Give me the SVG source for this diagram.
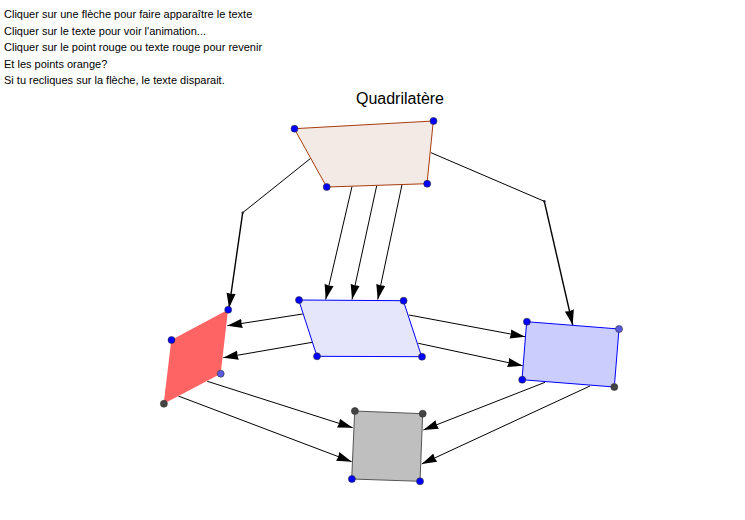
<svg xmlns="http://www.w3.org/2000/svg" width="745" height="520" viewBox="0 0 745 520">
<style>
text{font-family:"Liberation Sans",Arial,sans-serif;fill:#000}
.t{font-size:11px}
.c{fill:none;stroke:#000;stroke-width:1}
.a{marker-end:url(#ah)}
.b{stroke-width:1.4}
.p{stroke:#333;stroke-width:.6}
.blue{fill:#0000ff}
.mid{fill:#5a5ae0}
.dark{fill:#444}
.k{fill:#223;stroke:none}
</style>
<defs><marker id="ah" markerUnits="userSpaceOnUse" markerWidth="16" markerHeight="11" viewBox="0 0 16 11" refX="15" refY="5.5" orient="auto"><path d="M0 .9L15 5.5L0 10.1L.8 5.5Z" fill="#000"/></marker></defs>
<rect width="745" height="520" fill="#fff"/>
<g id="instructions">
<text class="t" x="4" y="18">Cliquer sur une flèche pour faire apparaître le texte</text>
<text class="t" x="4" y="35">Cliquer sur le texte pour voir l'animation...</text>
<text class="t" x="4" y="51">Cliquer sur le point rouge ou texte rouge pour revenir</text>
<text class="t" x="4" y="68">Et les points orange?</text>
<text class="t" x="4" y="84">Si tu recliques sur la flèche, le texte disparait.</text>
</g>
<g id="connectors">
<polyline class="c" points="310.7,158.3 242.7,212.7"/>
<line class="c b a" x1="242.7" y1="212.7" x2="229" y2="308"/>
<circle class="k" cx="242.7" cy="212.7" r="1.2"/>
<line class="c a" x1="352" y1="186.5" x2="325.7" y2="299.5"/>
<line class="c a" x1="376.7" y1="185.7" x2="352" y2="299.5"/>
<line class="c a" x1="402" y1="184.7" x2="377.7" y2="299.5"/>
<polyline class="c" points="431,152.7 544.3,201.3"/>
<line class="c b a" x1="544.3" y1="201.3" x2="572.7" y2="325"/>
<circle class="k" cx="544.3" cy="201.3" r="1.2"/>
<line class="c a" x1="302.7" y1="314" x2="227.3" y2="325.7"/>
<line class="c a" x1="312.3" y1="342.3" x2="223.3" y2="357.7"/>
<line class="c a" x1="409" y1="315" x2="525" y2="336.7"/>
<line class="c a" x1="418.3" y1="343.3" x2="522.7" y2="365.7"/>
<line class="c a" x1="207.3" y1="381.3" x2="352.7" y2="427.7"/>
<line class="c a" x1="178.3" y1="396" x2="351.7" y2="461.7"/>
<line class="c a" x1="545" y1="382.3" x2="423.3" y2="430"/>
<line class="c a" x1="590" y1="386" x2="421.7" y2="464"/>
</g>
<g id="title"><text x="400" y="104" font-size="16" text-anchor="middle">Quadrilatère</text></g>
<g id="quadrilatere">
<polygon points="294.3,128.7 433.3,121 427,183.7 326.7,187" fill="#f3eae5" stroke="#a63c0c" stroke-width="1"/>
<circle class="p blue" cx="294.5" cy="128.7" r="3.5"/><circle class="p blue" cx="433.5" cy="121" r="3.5"/><circle class="p blue" cx="427.2" cy="183.7" r="3.5"/><circle class="p blue" cx="326.7" cy="187" r="3.5"/>
</g>
<g id="parallelogramme">
<polygon points="298.7,300 403.3,300.7 421.7,356.7 317,356.3" fill="#e5e5fb" stroke="#0000ff" stroke-width="1"/>
<circle class="p blue" cx="299" cy="300" r="3.5"/><circle class="p blue" cx="403.6" cy="300.7" r="3.5"/><circle class="p blue" cx="422" cy="356.7" r="3.5"/><circle class="p blue" cx="317" cy="356.3" r="3.5"/>
</g>
<g id="losange">
<polygon points="228,309.7 171.3,340 163.7,403.7 220.7,373.7" fill="#ff6464"/>
<circle class="p blue" cx="228.2" cy="309.7" r="3.5"/><circle class="p blue" cx="171.5" cy="340" r="3.5"/><circle class="p dark" cx="163.9" cy="403.7" r="3.5"/><circle class="p mid" cx="220.7" cy="373.7" r="3.5"/>
</g>
<g id="rectangle">
<polygon points="526.7,321.7 619,329 614.3,387 522,379.7" fill="#cbcdfd" stroke="#0000ff" stroke-width="1"/>
<circle class="p blue" cx="526.9" cy="321.7" r="3.5"/><circle class="p mid" cx="619" cy="329" r="3.5"/><circle class="p dark" cx="614.3" cy="387" r="3.5"/><circle class="p blue" cx="522.2" cy="379.7" r="3.5"/>
</g>
<g id="carre">
<polygon points="354.7,411 422.7,413.7 420,481.3 351.7,479" fill="#bfbfbf" stroke="#555" stroke-width="1"/>
<circle class="p dark" cx="354.9" cy="411" r="3.5"/><circle class="p dark" cx="422.7" cy="413.7" r="3.5"/><circle class="p blue" cx="420" cy="481.3" r="3.5"/><circle class="p blue" cx="351.9" cy="479" r="3.5"/>
</g>
</svg>
